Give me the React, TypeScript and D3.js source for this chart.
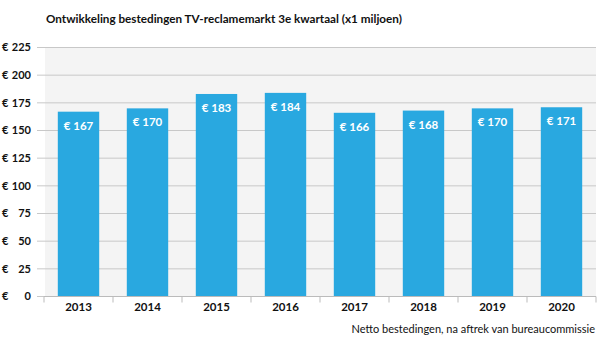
import React, { useEffect, useRef } from 'react';
import * as d3 from 'd3';

const years: string[] = ['2013', '2014', '2015', '2016', '2017', '2018', '2019', '2020'];
const spending: number[] = [167, 170, 183, 184, 166, 168, 170, 171];
const yTicks: number[] = [0, 25, 50, 75, 100, 125, 150, 175, 200, 225];

const App = () => {
  const ref = useRef<SVGSVGElement>(null);

  useEffect(() => {
    const svg = d3.select(ref.current);
    svg.selectAll('*').remove();
    const font = "Lato, 'Open Sans', sans-serif";

    const left = 44;
    const right = 596;
    const top = 47.5;
    const bottom = 296.5;

    const x = d3.scaleBand<string>().domain(years).range([left, right]).paddingInner(0.4).paddingOuter(0.2);
    const y = d3.scaleLinear().domain([0, 225]).range([bottom, top]);

    svg.append('rect').attr('x', 0).attr('y', 0).attr('width', 600).attr('height', 363).attr('fill', '#fff');

    svg.append('rect')
      .attr('x', left + 1).attr('y', top)
      .attr('width', right - left - 1).attr('height', bottom - top)
      .attr('fill', '#f4f4f4');

    svg.append('text')
      .attr('x', 46).attr('y', 23)
      .attr('font-family', font).attr('font-weight', 'bold').attr('font-size', 11.7)
      .attr('fill', '#111')
      .text('Ontwikkeling bestedingen TV-reclamemarkt 3e kwartaal (x1 miljoen)');

    // grid
    svg.append('g').selectAll('line').data(yTicks).join('line')
      .attr('x1', 37).attr('x2', right)
      .attr('y1', d => y(d)).attr('y2', d => y(d))
      .attr('stroke', '#c8c8c8').attr('stroke-width', 1);

    const yl = svg.append('g').attr('font-family', font).attr('font-weight', 'bold').attr('font-size', 11).attr('fill', '#111');
    yl.selectAll('text.eur').data(yTicks).join('text')
      .attr('class', 'eur')
      .attr('x', 2).attr('y', d => y(d)).attr('dy', '0.35em')
      .text('€');
    yl.selectAll('text.num').data(yTicks).join('text')
      .attr('class', 'num')
      .attr('x', 31).attr('y', d => y(d)).attr('dy', '0.35em')
      .attr('text-anchor', 'end')
      .text(d => d);

    // bars
    svg.append('g').selectAll('rect').data(spending).join('rect')
      .attr('x', (d, i) => x(years[i])!)
      .attr('width', x.bandwidth())
      .attr('y', d => y(d))
      .attr('height', d => bottom - y(d))
      .attr('fill', '#29a8e0');

    svg.append('g').selectAll('text').data(spending).join('text')
      .attr('x', (d, i) => x(years[i])! + x.bandwidth() / 2)
      .attr('y', d => y(d) + 18)
      .attr('text-anchor', 'middle')
      .attr('font-family', font).attr('font-weight', 'bold').attr('font-size', 11.5)
      .attr('fill', '#fff')
      .text(d => `€ ${d}`);

    // x axis
    const n = years.length;
    const xa = svg.append('g');
    xa.append('line').attr('x1', left).attr('x2', right).attr('y1', bottom).attr('y2', bottom)
      .attr('stroke', '#bbb');
    xa.selectAll('line.tick').data(d3.range(n + 1)).join('line')
      .attr('class', 'tick')
      .attr('x1', i => left + i * (right - left) / n)
      .attr('x2', i => left + i * (right - left) / n)
      .attr('y1', bottom).attr('y2', bottom + 6)
      .attr('stroke', '#bbb');
    xa.selectAll('text').data(years).join('text')
      .attr('x', d => x(d)! + x.bandwidth() / 2)
      .attr('y', 311)
      .attr('text-anchor', 'middle')
      .attr('font-family', font).attr('font-weight', 'bold').attr('font-size', 11.5)
      .attr('fill', '#111')
      .text(d => d);

    svg.append('text')
      .attr('x', 595).attr('y', 333)
      .attr('text-anchor', 'end')
      .attr('font-family', font).attr('font-size', 11)
      .attr('fill', '#111')
      .text('Netto bestedingen, na aftrek van bureaucommissie');
  }, []);

  return <svg ref={ref} width={600} height={363} style={{ position: 'absolute', left: 0, top: 0 }}></svg>;
};

export default App;
